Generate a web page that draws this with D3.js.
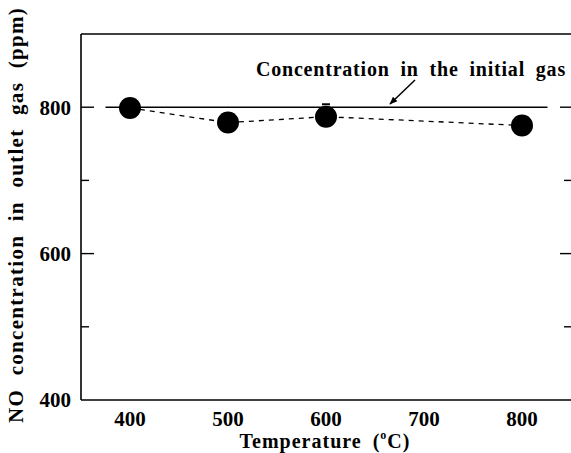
<!DOCTYPE html>
<html><head><meta charset="utf-8">
<script src="https://cdn.jsdelivr.net/npm/d3@7"></script>
<style>
html,body{margin:0;padding:0;background:#fff;overflow:hidden;}
svg{display:block;}
</style></head>
<body>
<svg id="chart" width="571" height="453"></svg>
<script>
const temperatures = [400, 500, 600, 800];
const noConcentration = [799, 779, 787, 775];
const errUpper = [0, 0, 17, 0];
const initialGas = 800;
const initialGasRange = [375, 826];
const xTicks = [400, 500, 600, 700, 800];
const yTicksAll = [500, 600, 700, 800];
const yTickLabels = [400, 600, 800];
const xDomain = [350, 850];
const yDomain = [400, 900];

const svg = d3.select("#chart");
const L = 81, R = 571, T = 34, B = 400;
const x = d3.scaleLinear().domain(xDomain).range([L, R]);
const y = d3.scaleLinear().domain(yDomain).range([B, T]);
const FF = "Liberation Serif";

// frame
svg.append("line").attr("x1", L).attr("x2", R + 2).attr("y1", T).attr("y2", T).attr("stroke", "#000").attr("stroke-width", 1.6);
svg.append("line").attr("x1", L).attr("x2", R + 2).attr("y1", B).attr("y2", B).attr("stroke", "#000").attr("stroke-width", 1.6);
svg.append("line").attr("x1", L).attr("x2", L).attr("y1", T).attr("y2", B).attr("stroke", "#000").attr("stroke-width", 1.6);

// left axis ticks (inward)
svg.append("g").selectAll("line").data(yTicksAll).join("line")
  .attr("x1", L).attr("x2", d => L + (yTickLabels.includes(d) ? 13 : 8))
  .attr("y1", d => y(d)).attr("y2", d => y(d))
  .attr("stroke", "#000").attr("stroke-width", 1.4);
// right axis ticks (inward)
svg.append("g").selectAll("line").data(yTicksAll).join("line")
  .attr("x1", R + 1).attr("x2", d => R + 1 - (yTickLabels.includes(d) ? 12 : 8))
  .attr("y1", d => y(d)).attr("y2", d => y(d))
  .attr("stroke", "#000").attr("stroke-width", 1.4);

// tick labels
svg.append("g").selectAll("text").data(yTickLabels).join("text")
  .attr("font-family", FF).attr("font-weight", "bold")
  .attr("x", 71).attr("y", d => y(d)).attr("dy", "0.35em")
  .attr("text-anchor", "end").attr("font-size", 21).text(d => d);
svg.append("g").selectAll("text").data(xTicks).join("text")
  .attr("font-family", FF).attr("font-weight", "bold")
  .attr("x", d => x(d)).attr("y", 426)
  .attr("text-anchor", "middle").attr("font-size", 21).text(d => d);

// axis titles
const xt = svg.append("text").attr("x", 325).attr("y", 448).attr("text-anchor", "middle")
  .attr("font-family", FF).attr("font-weight", "bold")
  .attr("font-size", 20).attr("letter-spacing", "1px").attr("word-spacing", "5px");
xt.append("tspan").text("Temperature (");
xt.append("tspan").attr("font-size", 12).attr("dy", -9).text("o");
xt.append("tspan").attr("dy", 9).text("C)");

svg.append("text").attr("transform", "translate(23,215) rotate(-90)")
  .attr("font-family", FF).attr("font-weight", "bold")
  .attr("text-anchor", "middle").attr("font-size", 21)
  .attr("letter-spacing", "1.3px").attr("word-spacing", "7px")
  .text("NO concentration in outlet gas (ppm)");

// initial gas reference line
svg.append("line").attr("x1", x(initialGasRange[0])).attr("x2", x(initialGasRange[1]))
  .attr("y1", y(initialGas)).attr("y2", y(initialGas)).attr("stroke", "#000").attr("stroke-width", 1.6);

// annotation
svg.append("text").attr("x", 566).attr("y", 76).attr("text-anchor", "end")
  .attr("font-family", FF).attr("font-weight", "bold")
  .attr("font-size", 20).attr("letter-spacing", "0.8px").attr("word-spacing", "5px")
  .text("Concentration in the initial gas");
svg.append("defs").append("marker").attr("id", "ah").attr("viewBox", "0 0 10 10")
  .attr("refX", 9).attr("refY", 5).attr("markerWidth", 8).attr("markerHeight", 8)
  .attr("orient", "auto").attr("markerUnits", "userSpaceOnUse")
  .append("path").attr("d", "M0,1 L10,5 L0,9 Z").attr("fill", "#000");
svg.append("line").attr("x1", 415).attr("y1", 80).attr("x2", 390).attr("y2", 104)
  .attr("stroke", "#000").attr("stroke-width", 1.5).attr("marker-end", "url(#ah)");

// data
const pts = temperatures.map((t, i) => ({t, v: noConcentration[i], e: errUpper[i]}));
svg.append("path").datum(pts)
  .attr("d", d3.line().x(d => x(d.t)).y(d => y(d.v)))
  .attr("fill", "none").attr("stroke", "#000").attr("stroke-width", 1.3).attr("stroke-dasharray", "5,5");
svg.append("g").selectAll("line").data(pts.filter(d => d.e > 0)).join("line")
  .attr("x1", d => x(d.t) - 4).attr("x2", d => x(d.t) + 4)
  .attr("y1", d => y(d.v + d.e)).attr("y2", d => y(d.v + d.e))
  .attr("stroke", "#000").attr("stroke-width", 2);
svg.append("g").selectAll("circle").data(pts).join("circle")
  .attr("cx", d => x(d.t)).attr("cy", d => y(d.v)).attr("r", 11).attr("fill", "#000");
</script>
</body></html>
